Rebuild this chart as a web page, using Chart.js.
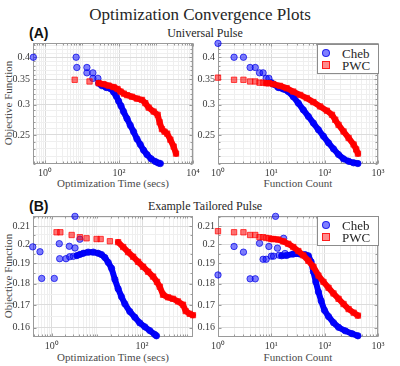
<!DOCTYPE html>
<html>
<head>
<meta charset="utf-8">
<script src="https://cdn.jsdelivr.net/npm/chart.js@4.4.1/dist/chart.umd.min.js"></script>
<style>
  body{margin:0;width:400px;height:366px;background:#fff;position:relative;overflow:hidden;
       font-family:"Liberation Serif",serif;color:#262626}
  canvas{position:absolute}
  .t{position:absolute;white-space:nowrap;line-height:1;transform:translate(-50%,-50%)}
  .ax{color:#4a4a4a}
  .tag{position:absolute;white-space:nowrap;line-height:1;transform:translateY(-50%);
       font:bold 14px "Liberation Sans",Arial,sans-serif;color:#111}
  .ylab{position:absolute;white-space:nowrap;line-height:1;font-size:11px;color:#4a4a4a;
        transform:translate(-50%,-50%) rotate(-90deg)}
  .leg{position:absolute;box-sizing:border-box;width:62px;height:30px;background:#fff;border:1px solid #8c8c8c}
  .leg .m{position:absolute;left:4px;width:8px;height:8px;box-sizing:border-box}
  .leg .c{border-radius:50%;background:rgba(0,0,255,0.5);border:1px solid rgba(0,0,230,0.75)}
  .leg .s{background:rgba(255,0,0,0.45);border:1px solid rgba(255,0,0,0.8)}
  .leg span{position:absolute;left:24px;font-size:13px;line-height:1;transform:translateY(-50%)}
</style>
</head>
<body>
<div class="t" style="left:200px;top:14px;font-size:17px">Optimization Convergence Plots</div>

<div class="tag" style="left:29px;top:33px">(A)</div>
<div class="t" style="left:205px;top:33px;font-size:12px">Universal Pulse</div>
<div class="tag" style="left:29px;top:206px">(B)</div>
<div class="t" style="left:205px;top:206px;font-size:12px">Example Tailored Pulse</div>

<div class="ylab" style="left:8px;top:103px">Objective Function</div>
<div class="ylab" style="left:8px;top:276px">Objective Function</div>
<div class="t ax" style="left:113px;top:183px;font-size:11px">Optimization Time (secs)</div>
<div class="t ax" style="left:298px;top:183px;font-size:11px">Function Count</div>
<div class="t ax" style="left:113px;top:357px;font-size:11px">Optimization Time (secs)</div>
<div class="t ax" style="left:298px;top:357px;font-size:11px">Function Count</div>

<canvas id="tl"></canvas>
<canvas id="tr"></canvas>
<canvas id="bl"></canvas>
<canvas id="br"></canvas>

<div class="leg" style="left:317px;top:44px">
  <div class="m c" style="top:4px"></div><span style="top:8px">Cheb</span>
  <div class="m s" style="top:16px"></div><span style="top:20px">PWC</span>
</div>
<div class="leg" style="left:317px;top:216px">
  <div class="m c" style="top:4px"></div><span style="top:8px">Cheb</span>
  <div class="m s" style="top:16px"></div><span style="top:20px">PWC</span>
</div>

<script>
// ---- data ----
// (A) universal pulse, vs optimization time
const TL_CHEB_SPARSE_X = [0.48, 6.9, 7.2, 13.5, 13.5, 19.6, 19.6, 26.8];
const TL_CHEB_SPARSE_Y = [0.400, 0.400, 0.376, 0.376, 0.364, 0.364, 0.352, 0.352];
const TL_CHEB_BAND_X = [28, 34, 45, 58, 71, 84, 97, 113, 132, 164, 201, 247, 305, 375, 461, 569, 731, 957, 1150, 1310];
const TL_CHEB_BAND_Y = [0.342, 0.337, 0.333, 0.331, 0.324, 0.316, 0.307, 0.298, 0.288, 0.276, 0.265, 0.255, 0.244, 0.236, 0.228, 0.222, 0.2165, 0.2128, 0.211, 0.2103];
const TL_PWC_SPARSE_X = [6.3, 15.9];
const TL_PWC_SPARSE_Y = [0.349, 0.3455];
const TL_PWC_BAND_X = [28, 38, 52, 71, 91, 110, 135, 164, 224, 305, 417, 513, 631, 861, 1105, 1250, 1445, 1700, 2000, 2440, 3000, 3470];
const TL_PWC_BAND_Y = [0.342, 0.340, 0.337, 0.334, 0.330, 0.325, 0.321, 0.318, 0.315, 0.3115, 0.309, 0.303, 0.295, 0.288, 0.2825, 0.270, 0.259, 0.255, 0.252, 0.243, 0.233, 0.2233];

// (A) universal pulse, vs function count
const TR_CHEB_SPARSE_X = [1, 2, 3, 4, 5, 6, 7, 8, 9];
const TR_CHEB_SPARSE_Y = [0.435, 0.400, 0.400, 0.376, 0.376, 0.364, 0.364, 0.352, 0.352];
const TR_CHEB_BAND_X = [10, 10.9, 13.5, 16.8, 20.8, 25.8, 32.1, 39.8, 49.5, 61.5, 76.4, 94.9, 118, 146.5, 182, 226, 281, 349, 420];
const TR_CHEB_BAND_Y = [0.343, 0.340, 0.333, 0.330, 0.325, 0.315, 0.303, 0.291, 0.2796, 0.2686, 0.258, 0.248, 0.2383, 0.2298, 0.222, 0.2163, 0.2132, 0.2112, 0.2103];
const TR_PWC_SPARSE_X = [1, 2, 3, 4, 5, 6, 7];
const TR_PWC_SPARSE_Y = [0.3536, 0.349, 0.349, 0.3455, 0.3455, 0.343, 0.343];
const TR_PWC_BAND_X = [8, 9, 10.9, 14.5, 19.4, 25.8, 34.6, 46.2, 61.5, 82.3, 110, 137, 158, 182, 226, 281, 349, 390, 420];
const TR_PWC_BAND_Y = [0.342, 0.342, 0.340, 0.3364, 0.3317, 0.325, 0.3185, 0.3124, 0.305, 0.297, 0.2895, 0.2825, 0.274, 0.2658, 0.2553, 0.2455, 0.236, 0.229, 0.2233];

// (B) tailored pulse, vs optimization time
const BL_CHEB_SPARSE_X = [0.38, 0.55, 0.60, 1.14, 1.47, 1.5, 2.07, 2.45, 2.5, 3.0, 3.27, 3.27, 4.2];
const BL_CHEB_SPARSE_Y = [0.1986, 0.196, 0.1825, 0.1825, 0.2003, 0.1924, 0.1924, 0.1989, 0.1934, 0.1936, 0.2155, 0.198, 0.2027];
const BL_CHEB_BAND_X = [3.6, 4.2, 5, 6.4, 8.3, 10.7, 12.7, 15, 17.8, 21.1, 25, 29.5, 35, 41.5, 53.5, 69, 89, 115, 148, 190, 208];
const BL_CHEB_BAND_Y = [0.194, 0.1946, 0.1952, 0.1958, 0.1958, 0.1952, 0.1945, 0.193, 0.1905, 0.1875, 0.182, 0.1775, 0.1738, 0.1705, 0.167, 0.1645, 0.162, 0.1603, 0.1587, 0.1571, 0.1565];
const BL_PWC_SPARSE_X = [1.28, 1.55, 2.76, 4.2, 5.9, 9.85, 12.1, 19.4];
const BL_PWC_SPARSE_Y = [0.2065, 0.2065, 0.205, 0.2038, 0.2032, 0.2028, 0.2028, 0.2016];
const BL_PWC_BAND_X = [29.5, 38.1, 49.1, 63.3, 81.6, 105, 136, 175, 214, 246, 291, 375, 484, 624, 804, 922, 1130, 1336];
const BL_PWC_BAND_Y = [0.2011, 0.1985, 0.1958, 0.1934, 0.1908, 0.1883, 0.1858, 0.1834, 0.1808, 0.1785, 0.1747, 0.1735, 0.1728, 0.1716, 0.1701, 0.1672, 0.166, 0.1654];

// (B) tailored pulse, vs function count
const BR_CHEB_SPARSE_X = [1, 2, 3, 4, 5, 6, 7, 8, 9, 10, 11, 12, 13, 14, 17, 18];
const BR_CHEB_SPARSE_Y = [0.1842, 0.1988, 0.1958, 0.1823, 0.1823, 0.2005, 0.1921, 0.1921, 0.1988, 0.1937, 0.1937, 0.2155, 0.1979, 0.1942, 0.2032, 0.1951];
const BR_CHEB_BAND_X = [15.6, 19.4, 25.8, 34.6, 43, 49.5, 55.7, 61.5, 68.3, 76.4, 86, 99, 118, 146.5, 182, 243, 325, 420];
const BR_CHEB_BAND_Y = [0.1939, 0.1941, 0.1948, 0.1948, 0.1945, 0.1939, 0.1908, 0.1858, 0.1808, 0.176, 0.1718, 0.1676, 0.1648, 0.1621, 0.1601, 0.1586, 0.1574, 0.1565];
const BR_PWC_SPARSE_X = [1, 2, 3, 4, 5, 6, 7, 8, 9];
const BR_PWC_SPARSE_Y = [0.2071, 0.2065, 0.2065, 0.205, 0.205, 0.2038, 0.2038, 0.2034, 0.2032];
const BR_PWC_BAND_X = [10, 10.9, 13.5, 16.8, 20.8, 25.8, 32.1, 39.8, 49.5, 61.5, 76.4, 94.9, 118, 146.5, 182, 226, 281, 349, 420];
const BR_PWC_BAND_Y = [0.2028, 0.2028, 0.2025, 0.2015, 0.2002, 0.1985, 0.1964, 0.1941, 0.1913, 0.1883, 0.1839, 0.1808, 0.178, 0.1753, 0.1728, 0.1704, 0.1681, 0.1665, 0.1652];

// axis limits and tick labels
const TOP_Y_RANGE = [0.2097, 0.436];
const TOP_Y_TICKS = [0.25, 0.3, 0.35, 0.4];
const TOP_Y_LABELS = ['0.25', '0.3', '0.35', '0.4'];
const BOT_Y_RANGE = [0.1565, 0.2157];
const BOT_Y_TICKS = [0.16, 0.17, 0.18, 0.19, 0.2, 0.21];
const BOT_Y_LABELS = ['0.16', '0.17', '0.18', '0.19', '0.2', '0.21'];
const TL_X_RANGE = [0.47, 10000];
const TL_X_TICKS = [1, 100, 10000];
const TL_X_LABELS = ['10\u2070', '10\u00b2', '10\u2074'];
const BL_X_RANGE = [0.385, 1340];
const BL_X_TICKS = [1, 100];
const BL_X_LABELS = ['10\u2070', '10\u00b2'];
const FC_X_RANGE = [1, 1000];
const FC_X_TICKS = [1, 10, 100, 1000];
const FC_X_LABELS = ['10\u2070', '10\u00b9', '10\u00b2', '10\u00b3'];

// ---- helpers ----
const pts = (xs, ys) => xs.map((x, i) => ({x, y: ys[i]}));
const TICK_FONT = {family: '"Liberation Serif", serif', size: 10};
const TICK_COLOR = '#3a3a3a';

function decadeMinors(min, max){
  const out = [];
  for (let e = -1; e <= 4; e++) for (let k = 1; k < 10; k++){
    const v = +(k * Math.pow(10, e)).toPrecision(6);
    if (v >= min && v <= max) out.push(v);
  }
  return out;
}
function stepMinors(min, max, step){
  const out = [];
  for (let v = Math.ceil(min / step) * step; v <= max + 1e-9; v += step) out.push(+v.toFixed(4));
  return out;
}
function tickSet(majors, minors){
  const all = Array.from(new Set(majors.concat(minors))).sort((a, b) => a - b);
  return all.map(v => ({value: v, major: majors.some(m => Math.abs(m - v) < 1e-9 * Math.max(1, m))}));
}
function labelFor(vals, labels, v){
  const i = vals.findIndex(t => Math.abs(t - v) / t < 1e-6);
  return i >= 0 ? labels[i] : '';
}

const gridColor = ctx => (ctx.tick && ctx.tick.major) ? '#dcdcdc' : '#efefef';

// box + inward tick marks round the plot area
const boxPlugin = {
  id: 'box',
  beforeDatasetsDraw(chart){
    const {ctx, chartArea: a, scales} = chart;
    ctx.save();
    ctx.strokeStyle = '#9a9a9a';
    ctx.lineWidth = 1;
    const L = Math.round(a.left) + 0.5, T = Math.round(a.top) + 0.5;
    const R = Math.round(a.right) - 0.5, B = Math.round(a.bottom) - 0.5;
    ctx.strokeRect(L, T, R - L, B - T);
    ctx.beginPath();
    scales.x.ticks.forEach(t => {
      const p = Math.round(scales.x.getPixelForValue(t.value)) + 0.5, len = t.major ? 3 : 2;
      ctx.moveTo(p, B); ctx.lineTo(p, B - len); ctx.moveTo(p, T); ctx.lineTo(p, T + len);
    });
    scales.y.ticks.forEach(t => {
      const p = Math.round(scales.y.getPixelForValue(t.value)) + 0.5, len = t.major ? 3 : 2;
      ctx.moveTo(L, p); ctx.lineTo(L + len, p); ctx.moveTo(R, p); ctx.lineTo(R - len, p);
    });
    ctx.stroke();
    ctx.restore();
  }
};

function chebSets(sx, sy, bx, by){
  const style = {pointStyle: 'circle', pointRadius: 3.2, pointBackgroundColor: 'rgba(0,0,255,0.5)',
                 pointBorderColor: 'rgba(0,0,230,0.7)', pointBorderWidth: 1, clip: false, order: 2};
  return [
    Object.assign({label: 'Cheb', data: pts(sx, sy), showLine: false}, style),
    Object.assign({label: 'Cheb', data: pts(bx, by), showLine: true, borderColor: 'rgb(0,0,255)',
                   borderWidth: 6, borderCapStyle: 'round', borderJoinStyle: 'round'}, style)
  ];
}
function pwcSets(sx, sy, bx, by){
  const style = {pointStyle: 'rect', pointRadius: 3.8, pointBackgroundColor: 'rgba(255,0,0,0.55)',
                 pointBorderColor: 'rgba(255,0,0,0.7)', pointBorderWidth: 1, clip: false, order: 1};
  return [
    Object.assign({label: 'PWC', data: pts(sx, sy), showLine: false}, style),
    Object.assign({label: 'PWC', data: pts(bx, by), showLine: true, borderColor: 'rgb(255,0,0)',
                   borderWidth: 6, borderCapStyle: 'round', borderJoinStyle: 'round'}, style)
  ];
}

function panel(id, box, xr, xv, xl, yr, yv, yl, yMinorStep, datasets){
  const padL = 33, padT = 6, padR = 10, padB = 26;
  const cv = document.getElementById(id);
  cv.width = box.r - box.l + padL + padR;
  cv.height = box.b - box.t + padT + padB;
  cv.style.left = (box.l - padL) + 'px';
  cv.style.top = (box.t - padT) + 'px';
  new Chart(cv, {
    type: 'scatter',
    data: {datasets},
    options: {
      responsive: false, animation: false, events: [],
      layout: {padding: {left: 0, top: padT, right: padR, bottom: 0}},
      plugins: {legend: {display: false}, tooltip: {enabled: false}},
      scales: {
        x: {
          type: 'logarithmic', min: xr[0], max: xr[1],
          afterBuildTicks: s => { s.ticks = tickSet(xv, decadeMinors(xr[0], xr[1])); },
          afterFit: s => { s.height = padB; s.paddingLeft = 0; s.paddingRight = 0; },
          ticks: {autoSkip: false, maxRotation: 0, minRotation: 0, padding: 3, font: TICK_FONT, color: TICK_COLOR,
                  callback: v => labelFor(xv, xl, v)},
          grid: {color: gridColor, drawTicks: false, lineWidth: 1},
          border: {display: false}
        },
        y: {
          type: 'logarithmic', min: yr[0], max: yr[1],
          afterBuildTicks: s => { s.ticks = tickSet(yv, stepMinors(yr[0], yr[1], yMinorStep)); },
          afterFit: s => { s.width = padL; s.paddingTop = 0; s.paddingBottom = 0; },
          ticks: {autoSkip: false, padding: 3, font: TICK_FONT, color: TICK_COLOR,
                  callback: v => labelFor(yv, yl, v)},
          grid: {color: gridColor, drawTicks: false, lineWidth: 1},
          border: {display: false}
        }
      }
    },
    plugins: [boxPlugin]
  });
}

panel('tl', {l: 33, t: 43, r: 193, b: 164}, TL_X_RANGE, TL_X_TICKS, TL_X_LABELS,
      TOP_Y_RANGE, TOP_Y_TICKS, TOP_Y_LABELS, 0.01,
      chebSets(TL_CHEB_SPARSE_X, TL_CHEB_SPARSE_Y, TL_CHEB_BAND_X, TL_CHEB_BAND_Y)
        .concat(pwcSets(TL_PWC_SPARSE_X, TL_PWC_SPARSE_Y, TL_PWC_BAND_X, TL_PWC_BAND_Y)));
panel('tr', {l: 218, t: 43, r: 378, b: 164}, FC_X_RANGE, FC_X_TICKS, FC_X_LABELS,
      TOP_Y_RANGE, TOP_Y_TICKS, TOP_Y_LABELS, 0.01,
      chebSets(TR_CHEB_SPARSE_X, TR_CHEB_SPARSE_Y, TR_CHEB_BAND_X, TR_CHEB_BAND_Y)
        .concat(pwcSets(TR_PWC_SPARSE_X, TR_PWC_SPARSE_Y, TR_PWC_BAND_X, TR_PWC_BAND_Y)));
panel('bl', {l: 33, t: 216, r: 193, b: 337}, BL_X_RANGE, BL_X_TICKS, BL_X_LABELS,
      BOT_Y_RANGE, BOT_Y_TICKS, BOT_Y_LABELS, 0.005,
      chebSets(BL_CHEB_SPARSE_X, BL_CHEB_SPARSE_Y, BL_CHEB_BAND_X, BL_CHEB_BAND_Y)
        .concat(pwcSets(BL_PWC_SPARSE_X, BL_PWC_SPARSE_Y, BL_PWC_BAND_X, BL_PWC_BAND_Y)));
panel('br', {l: 218, t: 216, r: 378, b: 337}, FC_X_RANGE, FC_X_TICKS, FC_X_LABELS,
      BOT_Y_RANGE, BOT_Y_TICKS, BOT_Y_LABELS, 0.005,
      chebSets(BR_CHEB_SPARSE_X, BR_CHEB_SPARSE_Y, BR_CHEB_BAND_X, BR_CHEB_BAND_Y)
        .concat(pwcSets(BR_PWC_SPARSE_X, BR_PWC_SPARSE_Y, BR_PWC_BAND_X, BR_PWC_BAND_Y)));
</script>
</body>
</html>
